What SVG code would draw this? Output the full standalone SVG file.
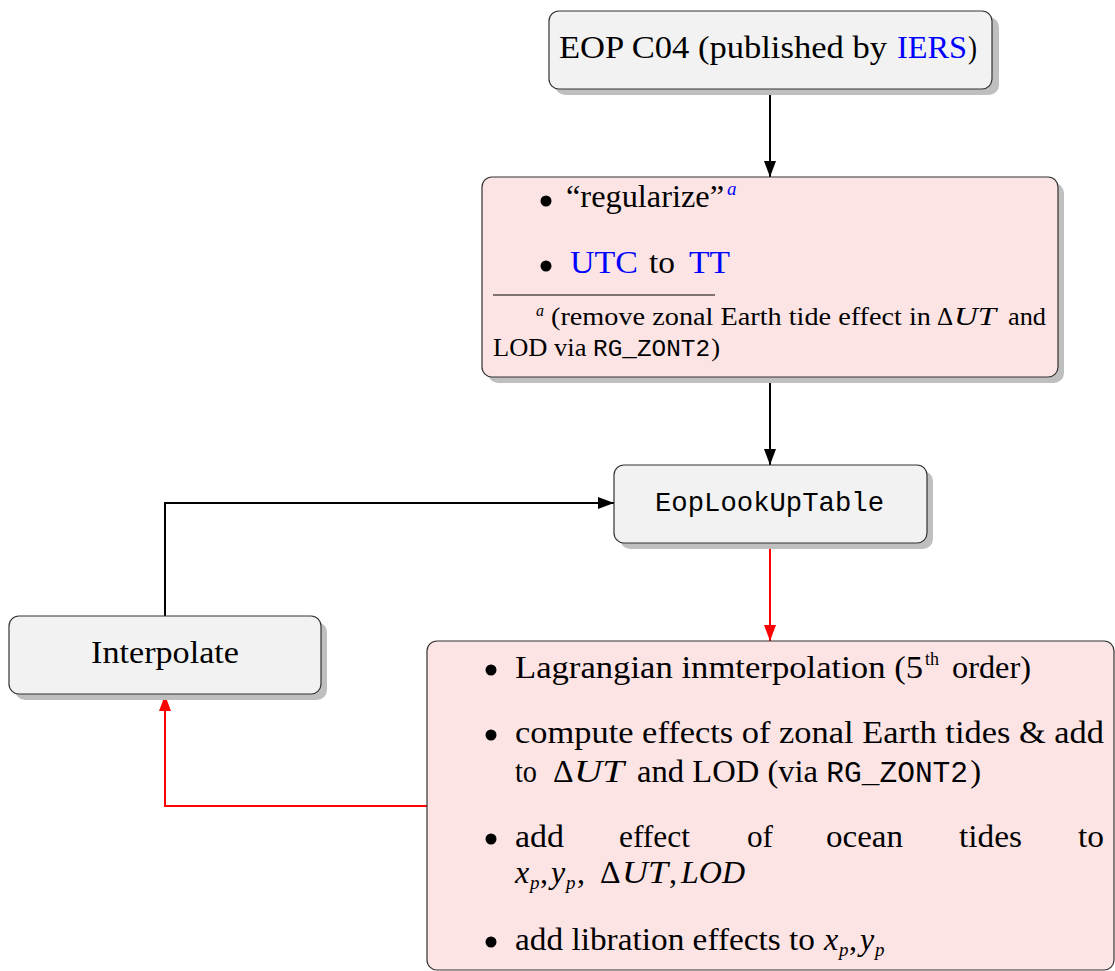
<svg xmlns="http://www.w3.org/2000/svg" width="1115" height="971" viewBox="0 0 1115 971">
<style>
.sh{fill:#bfbfbf}
.gb{fill:#f2f2f2;stroke:#333;stroke-width:1.2}
.pb{fill:#fde4e4;stroke:#333;stroke-width:1.2}
text{font-family:"Liberation Serif",serif;font-size:32px;fill:#000}
.fn{font-size:25px}
.bl{fill:#0000ff}
.it{font-style:italic}
.mo{font-family:"Liberation Mono",monospace}
.sup{font-size:19px}
.bu{fill:#000}
.cb{fill:none;stroke:#000;stroke-width:2}
.cr{fill:none;stroke:#ff0000;stroke-width:2}
</style>
<defs>
<marker id="ak" markerUnits="userSpaceOnUse" markerWidth="16" markerHeight="12" refX="16" refY="6" orient="auto"><path d="M0,0 L16,6 L0,12 z" fill="#000"/></marker>
<marker id="ar" markerUnits="userSpaceOnUse" markerWidth="16" markerHeight="12" refX="16" refY="6" orient="auto"><path d="M0,0 L16,6 L0,12 z" fill="#ff0000"/></marker>
</defs>
<rect width="1115" height="971" fill="#fff"/>

<g id="connectors">
<path class="cb" d="M770,89 L770,177" marker-end="url(#ak)"/>
<path class="cb" d="M770,377 L770,465" marker-end="url(#ak)"/>
<path class="cr" d="M770,543 L770,641" marker-end="url(#ar)"/>
<path class="cb" d="M165,616 L165,503 L614,503" marker-end="url(#ak)"/>
<path class="cr" d="M427,806 L165,806 L165,695" marker-end="url(#ar)"/>
</g>

<g id="eop">
<rect class="sh" x="555" y="17" width="444" height="78" rx="10"/>
<rect class="gb" x="549" y="11" width="443" height="78" rx="10"/>
<text x="559" y="58" textLength="328" lengthAdjust="spacingAndGlyphs">EOP C04 (published by</text>
<text class="bl" x="897" y="58" textLength="70" lengthAdjust="spacingAndGlyphs">IERS</text>
<text x="968" y="58" textLength="9" lengthAdjust="spacingAndGlyphs">)</text>
</g>

<g id="regularize">
<rect class="sh" x="488" y="183" width="576" height="200" rx="10"/>
<rect class="pb" x="482" y="177" width="576" height="200" rx="10"/>
<circle class="bu" cx="546" cy="201" r="5.5"/>
<text x="566" y="207" textLength="158" lengthAdjust="spacingAndGlyphs">“regularize”</text>
<text class="bl it sup" x="727" y="195">a</text>
<circle class="bu" cx="546" cy="266" r="5.5"/>
<text class="bl" x="570" y="273" textLength="68" lengthAdjust="spacingAndGlyphs">UTC</text>
<text x="649" y="273" textLength="26" lengthAdjust="spacingAndGlyphs">to</text>
<text class="bl" x="689" y="273" textLength="41" lengthAdjust="spacingAndGlyphs">TT</text>
<line x1="493" y1="295" x2="715" y2="295" stroke="#000" stroke-width="1"/>
<text class="it" x="536" y="316" style="font-size:16px">a</text>
<text class="fn" x="551" y="325" textLength="380" lengthAdjust="spacingAndGlyphs">(remove zonal Earth tide effect in</text>
<text class="fn" x="937" y="325">Δ</text>
<text class="fn it" x="954" y="325" textLength="42" lengthAdjust="spacingAndGlyphs">UT</text>
<text class="fn" x="1008" y="325" textLength="38" lengthAdjust="spacingAndGlyphs">and</text>
<text class="fn" x="493" y="356" textLength="227" lengthAdjust="spacingAndGlyphs">LOD via <tspan class="mo" style="font-size:23px">RG_ZONT2</tspan><tspan dx="1">)</tspan></text>
</g>

<g id="lookup">
<rect class="sh" x="620" y="471" width="313" height="78" rx="10"/>
<rect class="gb" x="614" y="465" width="313" height="78" rx="10"/>
<text class="mo" x="655" y="511" style="font-size:28px" textLength="229" lengthAdjust="spacingAndGlyphs">EopLookUpTable</text>
</g>

<g id="interpolate">
<rect class="sh" x="15" y="622" width="312" height="78" rx="10"/>
<rect class="gb" x="9" y="616" width="312" height="78" rx="10"/>
<text x="91" y="663" textLength="148" lengthAdjust="spacingAndGlyphs">Interpolate</text>
</g>

<g id="steps">
<rect class="pb" x="427" y="641" width="687" height="329" rx="10"/>
<circle class="bu" cx="491" cy="670" r="5.5"/>
<text x="515" y="678" textLength="408" lengthAdjust="spacingAndGlyphs">Lagrangian inmterpolation (5</text>
<text class="sup" x="925" y="665" textLength="14" lengthAdjust="spacingAndGlyphs">th</text>
<text x="952" y="678" textLength="79" lengthAdjust="spacingAndGlyphs">order)</text>

<circle class="bu" cx="491" cy="735" r="5.5"/>
<text x="515" y="743" textLength="589" lengthAdjust="spacingAndGlyphs">compute effects of zonal Earth tides &amp; add</text>
<text x="515" y="782" textLength="22" lengthAdjust="spacingAndGlyphs">to</text>
<text x="553" y="782">Δ</text>
<text class="it" x="574" y="782" textLength="50" lengthAdjust="spacingAndGlyphs">UT</text>
<text x="637" y="782" textLength="344" lengthAdjust="spacingAndGlyphs">and LOD (via <tspan class="mo" style="font-size:29px">RG_ZONT2</tspan><tspan dx="2">)</tspan></text>

<circle class="bu" cx="491" cy="839" r="5.5"/>
<text x="515" y="847" textLength="49" lengthAdjust="spacingAndGlyphs">add</text>
<text x="619" y="847" textLength="71" lengthAdjust="spacingAndGlyphs">effect</text>
<text x="747" y="847" textLength="26" lengthAdjust="spacingAndGlyphs">of</text>
<text x="826" y="847" textLength="77" lengthAdjust="spacingAndGlyphs">ocean</text>
<text x="959" y="847" textLength="63" lengthAdjust="spacingAndGlyphs">tides</text>
<text x="1078" y="847" textLength="26" lengthAdjust="spacingAndGlyphs">to</text>
<text class="it" x="515" y="883">x</text>
<text class="it sup" x="530" y="889">p</text>
<text x="540" y="883">,</text>
<text class="it" x="551" y="883">y</text>
<text class="it sup" x="566" y="889">p</text>
<text x="577" y="883">,</text>
<text x="600" y="883">Δ</text>
<text class="it" x="622" y="883" textLength="46" lengthAdjust="spacingAndGlyphs">UT</text>
<text x="669" y="883">,</text>
<text class="it" x="681" y="883">LOD</text>

<circle class="bu" cx="491" cy="942" r="5.5"/>
<text x="515" y="950" textLength="300" lengthAdjust="spacingAndGlyphs">add libration effects to</text>
<text class="it" x="824" y="950">x</text>
<text class="it sup" x="839" y="956">p</text>
<text x="849" y="950">,</text>
<text class="it" x="860" y="950">y</text>
<text class="it sup" x="875" y="956">p</text>
</g>
</svg>
